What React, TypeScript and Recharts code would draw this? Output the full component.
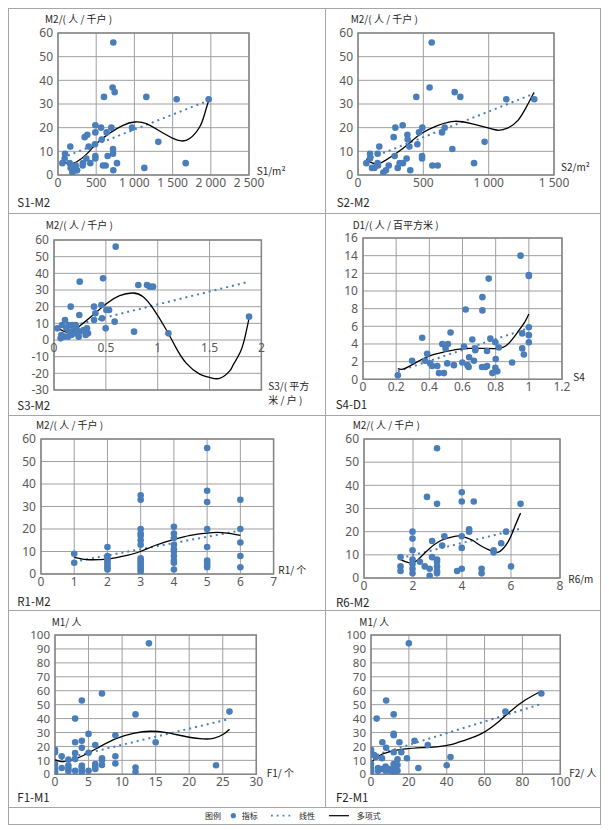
import React from 'react';
import { ComposedChart, Scatter, Line, XAxis, YAxis, CartesianGrid, ReferenceArea } from 'recharts';

type P = [number, number];

// ---------------- DATA ----------------
const s1m2Points: P[] = [[724,56],[715,37],[742,35],[602,33],[1156,33],[1553,32],[1972,32],[489,21],[563,20],[698,20],[969,20],[489,18],[637,18],[384,17],[349,16],[572,15],[484,13],[161,12],[401,12],[1313,14],[720,11],[720,9],[92,9],[650,8],[489,8],[489,7],[371,7],[87,7],[57,5],[153,5],[423,5],[772,5],[327,5],[1671,5],[589,4],[624,4],[323,4],[231,4],[166,3],[1130,3],[196,2],[240,2],[724,2],[188,1],[205,3],[250,2]];
const s1m2Poly: P[] = [[57,6],[131,4.8],[240,5.5],[371,8.7],[502,13.2],[676,17.7],[851,21],[1004,22.4],[1156,21.7],[1331,18.6],[1505,15.5],[1614,14.4],[1723,15.4],[1854,20.3],[1920,25.9],[1972,31.5]];
const s1m2Linear: P[] = [[57,7.3],[1972,31.5]];

const s2m2Points: P[] = [[564,56],[548,37],[740,35],[783,33],[446,33],[1135,32],[1349,32],[342,21],[286,20],[492,20],[663,20],[467,18],[643,18],[378,17],[380,15],[273,16],[454,13],[393,12],[163,12],[969,14],[722,11],[92,9],[150,9],[490,8],[490,7],[372,7],[92,7],[64,5],[150,5],[319,5],[344,5],[888,5],[569,4],[610,4],[235,4],[153,4],[107,3],[125,3],[304,3],[214,2],[400,2],[194,1],[281,8]];
const s2m2Poly: P[] = [[64,6.6],[102,5.2],[158,4.8],[230,6.9],[306,9.7],[383,13],[485,17.5],[612,21],[740,22.7],[867,21.7],[995,19.9],[1071,18.9],[1148,19.9],[1224,23.1],[1288,28.7],[1347,34.9]];
const s2m2Linear: P[] = [[64,6.5],[1349,34.4]];

const s3m2Points: P[] = [[0.595,56],[0.473,37],[0.248,35],[0.813,33],[0.897,33],[0.923,32],[0.955,32],[0.161,20],[0.386,20],[0.457,21],[0.505,18],[0.531,18],[0.399,16],[0.244,15],[0.463,13],[0.386,12],[0.585,11],[0.106,12],[0.498,7],[0.772,5],[1.103,4],[1.881,14],[0.032,7],[0.077,9],[0.177,9],[0.209,9],[0.071,3],[0.064,1],[0.1,2],[0.135,2],[0.167,3],[0.2,4],[0.238,2],[0.248,5],[0.318,7],[0.328,4],[0.305,3],[0.119,7],[0.151,5],[0.286,6],[0.215,7],[0.14,9],[0.19,8]];
const s3m2Poly: P[] = [[0.032,7.4],[0.087,5.4],[0.119,4.8],[0.183,5.6],[0.28,10],[0.376,15],[0.505,21.8],[0.633,26.6],[0.762,28.2],[0.859,26],[0.955,19],[1.084,6],[1.18,-5],[1.277,-14],[1.405,-20.5],[1.5,-22.4],[1.598,-23],[1.695,-18.5],[1.727,-15],[1.791,-8],[1.839,1],[1.881,13]];
const s3m2Linear: P[] = [[0.032,6.3],[1.881,35]];

const s4d1Points: P[] = [[0.95,14],[1.0,11.8],[1.0,11.7],[0.758,11.4],[0.72,9.3],[0.72,7.8],[0.619,7.9],[1.0,5.9],[0.96,5.2],[1.0,5.0],[1.0,4.2],[0.96,3.5],[0.97,2.8],[0.528,5.3],[0.357,4.7],[0.478,4.0],[0.512,4.0],[0.498,3.5],[0.659,4.5],[0.609,3.7],[0.677,3.5],[0.677,3.3],[0.768,4.6],[0.798,4.2],[0.819,3.6],[0.748,3.2],[0.387,2.9],[0.296,2.1],[0.375,2.1],[0.405,1.8],[0.417,1.5],[0.448,1.5],[0.458,0.7],[0.488,0.7],[0.508,1.8],[0.548,1.6],[0.599,1.9],[0.63,1.6],[0.64,2.5],[0.637,1.4],[0.669,2.1],[0.718,1.4],[0.738,1.4],[0.748,1.5],[0.78,0.7],[0.8,2.3],[0.798,1.3],[0.81,0.9],[0.899,1.9],[0.21,0.45]];
const s4d1Poly: P[] = [[0.21,1.2],[0.25,1.2],[0.33,2.0],[0.41,2.7],[0.49,3.1],[0.57,3.4],[0.653,3.5],[0.734,3.5],[0.815,3.5],[0.875,4.0],[0.935,5.4],[0.976,6.5],[1.0,7.4]];
const s4d1Linear: P[] = [[0.21,0.9],[1.0,5.8]];

const r1m2Points: P[] = [[1,9],[1,5],[2,12],[2,8],[2,7],[2,6],[2,5],[2,4],[2,3],[2,2],[3,35],[3,33],[3,20],[3,18],[3,17],[3,15],[3,13],[3,7],[3,6],[3,5],[3,4],[3,3],[3,2],[3,1],[4,21],[4,18],[4,16],[4,13],[4,11],[4,10],[4,8],[4,6],[4,5],[4,2],[5,56],[5,37],[5,32],[5,20],[5,12],[5,6],[5,5],[5,4],[5,3],[6,33],[6,20],[6,14],[6,8],[6,3]];
const r1m2Poly: P[] = [[1,7.4],[1.38,6.4],[1.78,6.4],[2.09,6.8],[2.59,8.3],[2.99,10],[3.49,13],[3.99,15.3],[4.49,17.2],[4.99,18.2],[5.3,18.5],[5.6,18.2],[6,17.2]];
const r1m2Linear: P[] = [[1,5.5],[6,19.3]];

const r6m2Points: P[] = [[2.98,56],[2.57,35],[2.98,32],[3.99,37],[3.99,33],[4.48,33],[6.39,32],[1.98,20],[1.98,17],[1.98,12],[1.49,9],[1.49,5],[1.49,3],[1.98,8],[1.98,6],[1.98,4],[1.98,2],[2.28,7],[2.48,5],[2.68,4],[2.68,1],[2.78,16],[2.78,9],[2.98,8],[2.98,7],[2.98,5],[2.98,3],[2.98,2],[3.19,14],[3.28,18],[3.8,3],[3.99,4],[3.99,18],[3.99,13],[4.29,21],[4.29,20],[4.8,4],[4.8,2],[5.29,12],[5.29,11],[5.6,15],[5.8,20],[6.0,5]];
const r6m2Poly: P[] = [[1.49,7.9],[1.66,7.2],[1.93,6.5],[2.2,7.9],[2.62,12.2],[3.16,16.3],[3.7,18],[3.98,18],[4.39,16.5],[4.8,13.7],[5.27,11.4],[5.55,11.5],[5.89,15.8],[6.16,22.3],[6.39,28]];
const r6m2Linear: P[] = [[1.49,8.6],[6.39,21.3]];

const f1m1Points: P[] = [[14,94],[7,58],[4,53],[12,43],[3,40],[26,45],[5,29],[9,28],[3,23],[4,24],[15,23],[6,21],[4,19],[0,17.5],[0,15.8],[3,15.3],[5,15.5],[1,13],[9,13],[7,11.5],[7,10],[2,10.5],[3,11],[0,7.4],[0,4.3],[0,2.6],[0,1.4],[1,4.5],[2,6.2],[2,3.8],[2,2.4],[3,2.6],[4,6.2],[4,5],[4,3.3],[4,1.9],[5,2.6],[6,7.4],[6,5.5],[6,3.8],[7,6.7],[9,7.7],[12,4.8],[12,1.7],[24,6.5]];
const f1m1Poly: P[] = [[0,10.3],[0.95,9.1],[1.94,9.6],[3.2,11.5],[4.7,14.6],[6.7,19.9],[9.2,25.8],[11.7,29.4],[14.2,30.9],[16.6,29.9],[19.1,27.5],[21.6,25.6],[23.6,25.8],[25.1,28.7],[26,32.3]];
const f1m1Linear: P[] = [[0,9.6],[26,39.7]];

const f2m1Points: P[] = [[20,94],[90,58],[8,53],[12,43],[71,45],[3,40],[12,29],[12,28],[23,24],[6,23],[15,23],[30,21],[8,19],[0,17.5],[0,15.8],[12,15.8],[16,15.8],[1.6,13.9],[2.6,12.4],[19,11.5],[42,12.4],[14,10.8],[5.8,11.5],[0,7.4],[40,6.5],[25,4.5],[0,4.3],[0,2.6],[0,1.4],[3.7,4.5],[3.7,2.6],[5.8,3.8],[7.7,5.5],[7.7,2.6],[10,2.6],[12,5.5],[12,7.4],[14,6.7],[14,2.6],[12,1.9],[9.3,3.8]];
const f2m1Poly: P[] = [[0,7.9],[2.3,11.5],[5.8,14.4],[11.1,16.7],[18.1,18.2],[26.9,19.1],[35.7,19.9],[42.8,21.5],[49.8,24.6],[58.6,29.4],[67.4,37.8],[74.5,46.2],[81.5,53.3],[90,59.8]];
const f2m1Linear: P[] = [[0,12.7],[90,50.5]];

const m2Ticks = [0, 10, 20, 30, 40, 50, 60];
const m2TicksNeg = [-30, -20, -10, 0, 10, 20, 30, 40, 50, 60];
const d1Ticks = [0, 2, 4, 6, 8, 10, 12, 14, 16];
const m1Ticks = [0, 10, 20, 30, 40, 50, 60, 70, 80, 90, 100];

const legendLabels = ['图例', '指标', '线性', '多项式'];

// ---------------- STYLE ----------------
const BLUE = '#4a7ebb';
const GRID = '#a0a0a0';
const BORDER = '#858585';
const TICK = '#595959';
const TEXT = '#262626';
const NUMFONT = '"Noto Sans", "Open Sans", sans-serif';
const CJK = '"Noto Sans CJK SC", "Noto Sans", sans-serif';
const LINE = '#a6a6a6';

const fmt = (v: number) => {
  if (Math.abs(v) >= 1000) {
    const th = Math.floor(v / 1000);
    const rest = String(v % 1000).padStart(3, '0');
    return `${th} ${rest}`;
  }
  return String(v);
};

interface PanelCfg {
  plot: [number, number, number, number];
  xDomain: [number, number];
  xTicks: number[];
  yDomain: [number, number];
  yTicks: number[];
  points: P[];
  poly: P[];
  linear: P[];
  xAt0?: boolean;
  yFont?: number;
}

const toObj = (a: P[]) => a.map(([x, y]) => ({ x, y }));

function Panel({ cfg }: { cfg: PanelCfg }) {
  const [l, t, r, b] = cfg.plot;
  const ML = 40, MT = 10, MR = 30, MB = 25, XH = 20;
  const w = r - l, h = b - t;
  const shift = cfg.xAt0 ? (h * (0 - cfg.yDomain[0])) / (cfg.yDomain[1] - cfg.yDomain[0]) : 0;
  const xTick = (p: any) => (
    <text x={p.x} y={p.y + 12 - shift} textAnchor="middle" fontSize={12} fill={TICK} fontFamily={NUMFONT}>
      {fmt(p.payload.value)}
    </text>
  );
  const yf = cfg.yFont ?? 12;
  const yTick = (p: any) => (
    <text x={p.x} y={p.y + yf * 0.36} textAnchor="end" fontSize={yf} fill={TICK} fontFamily={NUMFONT}>
      {fmt(p.payload.value)}
    </text>
  );
  return (
    <div style={{ position: 'absolute', left: l - ML, top: t - MT }}>
      <ComposedChart width={w + ML + MR} height={h + MT + MB} margin={{ top: MT, right: MR, bottom: MB - XH, left: 0 }}>
        <CartesianGrid stroke={GRID} strokeWidth={1} />
        <XAxis type="number" dataKey="x" domain={cfg.xDomain} ticks={cfg.xTicks} interval={0} height={XH}
          tickLine={false} axisLine={false} tickSize={0} tickMargin={0} tick={xTick} allowDataOverflow />
        <YAxis type="number" dataKey="y" domain={cfg.yDomain} ticks={cfg.yTicks} interval={0} width={ML}
          tickLine={false} axisLine={false} tickSize={0} tickMargin={5} tick={yTick} allowDataOverflow />
        <ReferenceArea x1={cfg.xDomain[0]} x2={cfg.xDomain[1]} y1={cfg.yDomain[0]} y2={cfg.yDomain[1]}
          fill="#ffffff" fillOpacity={0} stroke={BORDER} strokeWidth={1.5} ifOverflow="visible" />
        <Scatter data={toObj(cfg.points)} fill={BLUE} isAnimationActive={false}
          shape={(p: any) => <circle cx={p.cx} cy={p.cy} r={3.3} fill={BLUE} />} />
        <Line data={toObj(cfg.linear)} dataKey="y" type="linear" stroke={BLUE} strokeWidth={2}
          strokeDasharray="2 4" dot={false} activeDot={false} isAnimationActive={false} />
        <Line data={toObj(cfg.poly)} dataKey="y" type="natural" stroke="#000" strokeWidth={1.3}
          dot={false} activeDot={false} isAnimationActive={false} />
      </ComposedChart>
    </div>
  );
}

const panels: PanelCfg[] = [
  { plot: [58.3, 32.7, 249.3, 174.7], xDomain: [0, 2500], xTicks: [0, 500, 1000, 1500, 2000, 2500], yDomain: [0, 60], yTicks: m2Ticks, points: s1m2Points, poly: s1m2Poly, linear: s1m2Linear },
  { plot: [358.3, 32.7, 554.3, 174.7], xDomain: [0, 1500], xTicks: [0, 500, 1000, 1500], yDomain: [0, 60], yTicks: m2Ticks, points: s2m2Points, poly: s2m2Poly, linear: s2m2Linear },
  { plot: [54.3, 240, 261.7, 390], xDomain: [0, 2], xTicks: [0, 0.5, 1, 1.5, 2], yDomain: [-30, 60], yTicks: m2TicksNeg, points: s3m2Points, poly: s3m2Poly, linear: s3m2Linear, xAt0: true },
  { plot: [363.3, 237.7, 562.3, 379], xDomain: [0, 1.2], xTicks: [0, 0.2, 0.4, 0.6, 0.8, 1, 1.2], yDomain: [0, 16], yTicks: d1Ticks, points: s4d1Points, poly: s4d1Poly, linear: s4d1Linear },
  { plot: [40.7, 439.3, 273.3, 574.3], xDomain: [0, 7], xTicks: [0, 1, 2, 3, 4, 5, 6, 7], yDomain: [0, 60], yTicks: m2Ticks, points: r1m2Points, poly: r1m2Poly, linear: r1m2Linear },
  { plot: [364, 439.3, 560, 578.3], xDomain: [0, 8], xTicks: [0, 2, 4, 6, 8], yDomain: [0, 60], yTicks: m2Ticks, points: r6m2Points, poly: r6m2Poly, linear: r6m2Linear },
  { plot: [54.7, 635, 256, 774.3], xDomain: [0, 30], xTicks: [0, 5, 10, 15, 20, 25, 30], yDomain: [0, 100], yTicks: m1Ticks, points: f1m1Points, poly: f1m1Poly, linear: f1m1Linear, yFont: 11.5 },
  { plot: [370.7, 635, 560, 774.3], xDomain: [0, 100], xTicks: [0, 20, 40, 60, 80, 100], yDomain: [0, 100], yTicks: m1Ticks, points: f2m1Points, poly: f2m1Poly, linear: f2m1Linear, yFont: 11.5 },
];

const yTitles: [string, number, number][] = [
  ['M2/( 人 / 千户 )', 45, 19],
  ['M2/( 人 / 千户 )', 350.7, 19],
  ['M2/( 人 / 千户 )', 45.7, 225],
  ['D1/( 人 / 百平方米 )', 352.7, 225],
  ['M2/( 人 / 千户 )', 36, 425],
  ['M2/( 人 / 千户 )', 352.7, 425],
  ['M1/ 人', 51.7, 621.7],
  ['M1/ 人', 359.3, 621.7],
];
const xTitles: [string, number, number][] = [
  ['S1/m²', 256.7, 170.8],
  ['S2/m²', 561, 166.7],
  ['S3/( 平方', 268.3, 385.8],
  ['米 / 户 )', 268.3, 400.2],
  ['S4', 573.3, 376.7],
  ['R1/ 个', 278.3, 570],
  ['R6/m', 568.3, 579.3],
  ['F1/ 个', 266.7, 772.7],
  ['F2/ 人', 569.3, 773.3],
];
const panelNames: [string, number, number][] = [
  ['S1-M2', 17.3, 202.7],
  ['S2-M2', 336.7, 202.7],
  ['S3-M2', 17.3, 405.3],
  ['S4-D1', 335.7, 404.3],
  ['R1-M2', 17.3, 601],
  ['R6-M2', 336, 602.2],
  ['F1-M1', 17.3, 797.7],
  ['F2-M1', 336, 797.3],
];

function Label({ text, x, y, size, color }: { text: string; x: number; y: number; size: number; color: string }) {
  const lh = Math.round(size * 1.15);
  return (
    <div style={{ position: 'absolute', left: x, top: y - lh / 2, height: lh, lineHeight: `${lh}px`, fontSize: size,
      fontFamily: CJK, color, whiteSpace: 'nowrap' }}>{text}</div>
  );
}

export default function App() {
  return (
    <div style={{ position: 'absolute', left: 0, top: 0, width: 609, height: 830, background: '#fff' }}>
      <div style={{ position: 'absolute', left: 8, top: 8, width: 593, height: 817, boxSizing: 'border-box', border: `1px solid ${LINE}` }} />
      <div style={{ position: 'absolute', left: 325, top: 8, width: 1, height: 799, background: LINE }} />
      {[213, 415, 610, 807].map((y) => (
        <div key={y} style={{ position: 'absolute', left: 8, top: y, width: 593, height: 1, background: LINE }} />
      ))}
      {panels.map((p, i) => <Panel key={i} cfg={p} />)}
      {yTitles.map(([t, x, y], i) => <Label key={'y' + i} text={t} x={x} y={y} size={10} color={TEXT} />)}
      {xTitles.map(([t, x, y], i) => <Label key={'x' + i} text={t} x={x} y={y} size={10} color={TEXT} />)}
      {panelNames.map(([t, x, y], i) => <Label key={'n' + i} text={t} x={x} y={y} size={11.5} color={TEXT} />)}
      <Label text={legendLabels[0]} x={205} y={815.7} size={8} color={TEXT} />
      <svg style={{ position: 'absolute', left: 0, top: 808, overflow: 'visible' }} width={609} height={16}>
        <circle cx={233.3} cy={7.7} r={2.6} fill={BLUE} />
        <line x1={271} y1={7.7} x2={293} y2={7.7} stroke={BLUE} strokeWidth={1.8} strokeDasharray="1.8 4" />
        <line x1={329} y1={7.7} x2={349} y2={7.7} stroke="#000" strokeWidth={1.2} />
      </svg>
      <Label text={legendLabels[1]} x={241.7} y={815.7} size={8} color={TEXT} />
      <Label text={legendLabels[2]} x={299} y={815.7} size={8} color={TEXT} />
      <Label text={legendLabels[3]} x={356.7} y={815.7} size={8} color={TEXT} />
    </div>
  );
}
